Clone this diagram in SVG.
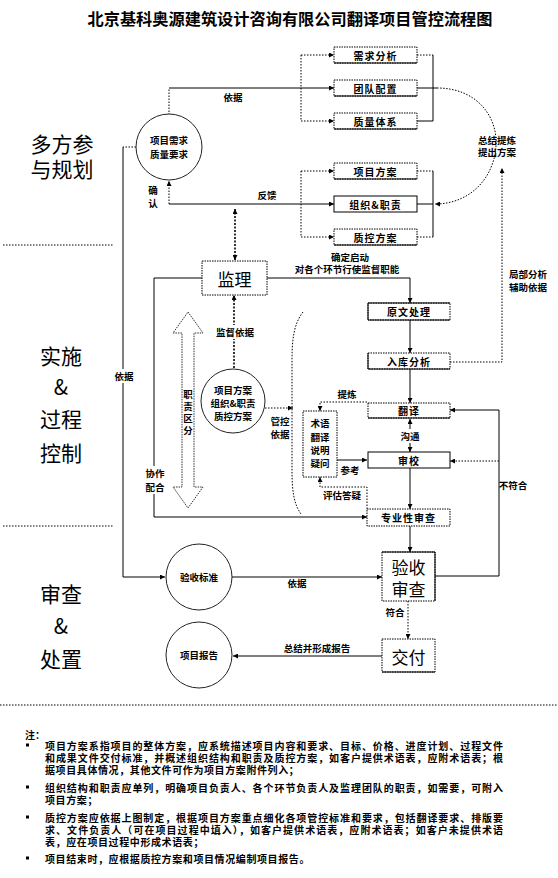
<svg xmlns="http://www.w3.org/2000/svg" width="558" height="878" viewBox="0 0 558 878">
<defs>
<marker id="ah" viewBox="0 0 6 6" refX="6" refY="3" markerWidth="5" markerHeight="5" orient="auto-start-reverse" markerUnits="userSpaceOnUse"><path d="M0,0 L6,3 L0,6 z" fill="#000"/></marker>
</defs>
<style>
text{font-family:"Noto Sans CJK SC","Noto Sans",sans-serif;fill:#000;}
.t{font-size:9.5px;font-weight:bold;text-anchor:middle;dominant-baseline:central;}
.bx{font-size:10px;font-weight:bold;text-anchor:middle;dominant-baseline:central;letter-spacing:1px;}
.big{font-size:17px;text-anchor:middle;dominant-baseline:central;}
.sec{font-size:21px;text-anchor:middle;dominant-baseline:central;font-family:"Noto Sans CJK SC",serif;}
.note{font-size:10px;font-weight:bold;dominant-baseline:central;}
.box{fill:#fff;stroke:#000;stroke-width:1;stroke-dasharray:1.5,1;}
.sb{stroke:#000;stroke-width:1;}
.circ{fill:#fff;stroke:#222;stroke-width:1;}
.ln{fill:none;stroke:#000;stroke-width:1;}
.dt{fill:none;stroke:#000;stroke-width:1;stroke-dasharray:1.5,1.5;}
.dk{fill:none;stroke:#000;stroke-width:1.6;stroke-dasharray:2,1.5;}
.wb{fill:#fff;}
</style>
<rect width="558" height="878" fill="#fff"/>
<text x="290" y="18" font-size="16" font-weight="bold" text-anchor="middle" dominant-baseline="central" textLength="405" lengthAdjust="spacingAndGlyphs">北京基科奥源建筑设计咨询有限公司翻译项目管控流程图</text>

<g id="sections">
<text class="sec" x="62" y="143">多方参</text>
<text class="sec" x="62" y="168">与规划</text>
<line class="dt" x1="3" y1="245" x2="113" y2="245"/>
<text class="sec" x="61" y="355">实施</text>
<text class="sec" x="61" y="386" font-size="18">&amp;</text>
<text class="sec" x="61" y="418">过程</text>
<text class="sec" x="61" y="452">控制</text>
<line class="dt" x1="3" y1="526" x2="113" y2="526"/>
<text class="sec" x="61" y="593">审查</text>
<text class="sec" x="61" y="625" font-size="18">&amp;</text>
<text class="sec" x="61" y="658">处置</text>
</g>

<g id="connectors">
<path class="dt" d="M169,115 V88"/>
<path class="ln" d="M169,88 H334" marker-end="url(#ah)"/>
<path class="dt" d="M301,55 V121"/>
<path class="dt" d="M301,55 H334" marker-end="url(#ah)"/>
<path class="dt" d="M301,121 H334" marker-end="url(#ah)"/>
<path class="dt" d="M417,55 H433"/>
<path class="ln" d="M417,121 H433 M433,55 V121 M417,88 H437"/>
<path class="dt" d="M437,88 C478,88 498,118 496,146 C494,178 470,204 435,204" marker-end="url(#ah)"/>
<path class="dt" d="M301,171 V237"/>
<path class="dt" d="M301,171 H334" marker-end="url(#ah)"/>
<path class="dt" d="M301,237 H334" marker-end="url(#ah)"/>
<path class="ln" d="M169,204 H334" marker-end="url(#ah)"/>
<path class="dt" d="M169,204 V181" marker-end="url(#ah)"/>
<path class="dt" d="M417,171 H433 M417,237 H433"/>
<path class="ln" d="M433,171 V237 M417,204 H433"/>
<path class="dk" d="M235,209 V260" marker-start="url(#ah)" marker-end="url(#ah)"/>
<path class="ln" d="M267,278 H410 V303" marker-end="url(#ah)"/>
<path class="ln" d="M202,278 H154 V517 H367" marker-end="url(#ah)"/>
<path class="dt" d="M136,147 H123"/>
<path class="ln" d="M123,147 V577 H165" marker-end="url(#ah)"/>
<path class="ln" d="M410,320 V353" marker-end="url(#ah)"/>
<path class="ln" d="M410,369 V403" marker-end="url(#ah)"/>
<path class="ln" d="M410,419 V452" marker-start="url(#ah)" marker-end="url(#ah)"/>
<path class="ln" d="M410,468 V509" marker-end="url(#ah)"/>
<path class="ln" d="M410,526 V552" marker-end="url(#ah)"/>
<path class="ln" d="M435,576 H499 V410 H450" marker-end="url(#ah)"/>
<path class="dt" d="M499,461 H450" marker-end="url(#ah)"/>
<path class="ln" d="M232,577 H382" marker-end="url(#ah)"/>
<path class="dt" d="M408,601 V639" marker-end="url(#ah)"/>
<path class="ln" d="M382,656 H233" marker-end="url(#ah)"/>
<path class="dt" d="M450,362 H502 V168" marker-end="url(#ah)"/>
<path class="dk" d="M234,368 V295" marker-end="url(#ah)"/>
<path class="dt" d="M265,408 H293" marker-end="url(#ah)"/>
<path class="dt" d="M303,312 C293,325 292,342 292,362 V470 C292,492 294,504 301,514"/>
<path class="dt" d="M367,402 H320 V411" marker-end="url(#ah)"/>
<path class="ln" d="M337,460 H367" marker-end="url(#ah)"/>
<path class="dt" d="M367,509 V487 H320 V477" marker-end="url(#ah)"/>
</g>

<g id="labels">
<text class="t" x="233" y="97">依据</text>
<text class="t" x="267" y="195">反馈</text>
<text class="t" x="153" y="190">确</text>
<text class="t" x="153" y="203">认</text>
<text class="t" x="497" y="140">总结提炼</text>
<text class="t" x="497" y="152">提出方案</text>
<text class="t" x="528" y="274">局部分析</text>
<text class="t" x="528" y="287">辅助依据</text>
<text class="t" x="350" y="257">确定启动</text>
<text class="t" x="347" y="269">对各个环节行使监督职能</text>
<rect class="wb" x="112" y="369" width="24" height="14"/>
<text class="t" x="124" y="376">依据</text>
<rect class="wb" x="143" y="466" width="24" height="28"/>
<text class="t" x="155" y="473">协作</text>
<text class="t" x="155" y="487">配合</text>
<rect class="wb" x="215" y="325" width="40" height="14"/>
<text class="t" x="235" y="332">监督依据</text>
<text class="t" x="280" y="421">管控</text>
<text class="t" x="280" y="434">依据</text>
<text class="t" x="347" y="394">提炼</text>
<rect class="wb" x="398" y="429" width="24" height="14"/>
<text class="t" x="410" y="436">沟通</text>
<text class="t" x="350" y="470">参考</text>
<text class="t" x="342" y="495">评估答疑</text>
<text class="t" x="513" y="485">不符合</text>
<text class="t" x="297" y="583">依据</text>
<text class="t" x="395" y="612">符合</text>
<text class="t" x="317" y="648">总结并形成报告</text>
</g>

<g id="n-xqfx"><rect class="box" x="334" y="47" width="83" height="16"/><line class="sb" x1="334" y1="63" x2="417" y2="63"/><text class="bx" x="375.5" y="55">需求分析</text></g>
<g id="n-tdpz"><rect class="box" x="334" y="80" width="83" height="16"/><line class="sb" x1="334" y1="96" x2="417" y2="96"/><text class="bx" x="375.5" y="88">团队配置</text></g>
<g id="n-zltx"><rect class="box" x="334" y="113" width="83" height="16"/><line class="sb" x1="334" y1="129" x2="417" y2="129"/><text class="bx" x="375.5" y="121">质量体系</text></g>
<g id="n-xmfa"><rect class="box" x="334" y="163" width="83" height="16"/><line class="sb" x1="334" y1="179" x2="417" y2="179"/><text class="bx" x="375.5" y="171">项目方案</text></g>
<g id="n-zzzz"><rect class="box" x="334" y="196" width="83" height="16" style="stroke-dasharray:none"/><text class="bx" x="375.5" y="204">组织&amp;职责</text></g>
<g id="n-zkfa"><rect class="box" x="334" y="229" width="83" height="16"/><line class="sb" x1="334" y1="245" x2="417" y2="245"/><text class="bx" x="375.5" y="237">质控方案</text></g>

<g id="n-req"><circle class="circ" cx="169" cy="147" r="33"/><text class="t" x="169" y="140">项目需求</text><text class="t" x="169" y="154">质量要求</text></g>

<g id="n-jl"><rect class="box" x="202" y="261" width="65" height="34"/><text class="big" x="234.5" y="278">监理</text></g>

<g id="n-zzqf"><polygon points="188,312 203,333 194,333 194,487 203,487 188,508 173,487 182,487 182,333 173,333" fill="#fff" stroke="#333" stroke-width="1" stroke-dasharray="1.5,1"/>
<text class="t" x="188" y="394">职</text><text class="t" x="188" y="406">责</text><text class="t" x="188" y="418">区</text><text class="t" x="188" y="430">分</text></g>

<g id="n-plan"><circle class="circ" cx="233" cy="401" r="32"/><text class="t" x="233" y="390">项目方案</text><text class="t" x="233" y="403">组织&amp;职责</text><text class="t" x="233" y="416">质控方案</text></g>

<g id="n-ywcl"><rect class="box" x="368" y="303" width="82" height="17"/><line class="sb" x1="368" y1="303" x2="368" y2="320"/><line class="sb" x1="368" y1="303" x2="450" y2="303"/><line class="sb" x1="368" y1="320" x2="450" y2="320"/><text class="bx" x="409" y="311.5">原文处理</text></g>
<g id="n-rkfx"><rect class="box" x="368" y="353" width="82" height="16"/><line class="sb" x1="368" y1="353" x2="368" y2="369"/><line class="sb" x1="368" y1="369" x2="450" y2="369"/><text class="bx" x="409" y="361">入库分析</text></g>
<g id="n-fy"><rect class="box" x="368" y="403" width="82" height="15"/><line class="sb" x1="368" y1="418" x2="450" y2="418"/><text class="bx" x="409" y="410.5">翻译</text></g>
<g id="n-sj"><rect class="box" x="368" y="452" width="82" height="16" style="stroke-dasharray:none"/><text class="bx" x="409" y="460">审校</text></g>
<g id="n-zysc"><rect class="box" x="367" y="509" width="83" height="17"/><text class="bx" x="408.5" y="517.5">专业性审查</text></g>
<g id="n-term"><rect class="box" x="303" y="411" width="34" height="66"/><text class="t" x="320" y="423" font-size="10.5">术语</text><text class="t" x="320" y="437" font-size="10.5">翻译</text><text class="t" x="320" y="450" font-size="10.5">说明</text><text class="t" x="320" y="463" font-size="10.5">疑问</text></g>

<g id="n-yssc"><rect class="box" x="382" y="552" width="53" height="49"/><line class="sb" x1="382" y1="552" x2="435" y2="552"/><line class="sb" x1="435" y1="552" x2="435" y2="601"/><text class="big" x="408.5" y="566" font-size="19">验收</text><text class="big" x="408.5" y="588" font-size="19">审查</text></g>
<g id="n-jf"><rect class="box" x="382" y="639" width="53" height="33"/><line class="sb" x1="382" y1="672" x2="435" y2="672"/><text class="big" x="408.5" y="656" font-size="19">交付</text></g>
<g id="n-ysbz"><circle class="circ" cx="199" cy="577" r="33"/><text class="t" x="199" y="577">验收标准</text></g>
<g id="n-xmbg"><circle class="circ" cx="199" cy="655" r="33"/><text class="t" x="199" y="655">项目报告</text></g>

<g id="notes">
<line class="dt" x1="0" y1="705" x2="558" y2="705"/>
<text class="note" x="25" y="734">注：</text>
<rect x="26" y="743.5" width="3" height="3"/>
<text class="note" x="45" y="745" textLength="458" lengthAdjust="spacing">项目方案系指项目的整体方案，应系统描述项目内容和要求、目标、价格、进度计划、过程文件</text>
<text class="note" x="45" y="757" textLength="458" lengthAdjust="spacing">和成果文件交付标准，并概述组织结构和职责及质控方案，如客户提供术语表，应附术语表；根</text>
<text class="note" x="45" y="769" letter-spacing="0.6">据项目具体情况，其他文件可作为项目方案附件列入；</text>
<rect x="26" y="785.5" width="3" height="3"/>
<text class="note" x="45" y="787" textLength="458" lengthAdjust="spacing">组织结构和职责应单列，明确项目负责人、各个环节负责人及监理团队的职责，如需要，可附入</text>
<text class="note" x="45" y="799" letter-spacing="0.6">项目方案；</text>
<rect x="26" y="815.5" width="3" height="3"/>
<text class="note" x="45" y="817" textLength="458" lengthAdjust="spacing">质控方案应依据上图制定，根据项目方案重点细化各项管控标准和要求，包括翻译要求、排版要</text>
<text class="note" x="45" y="829" textLength="458" lengthAdjust="spacing">求、文件负责人（可在项目过程中填入），如客户提供术语表，应附术语表；如客户未提供术语</text>
<text class="note" x="45" y="841" letter-spacing="0.6">表，应在项目过程中形成术语表；</text>
<rect x="26" y="856.5" width="3" height="3"/>
<text class="note" x="45" y="858" letter-spacing="0.6">项目结束时，应根据质控方案和项目情况编制项目报告。</text>
</g>
</svg>
